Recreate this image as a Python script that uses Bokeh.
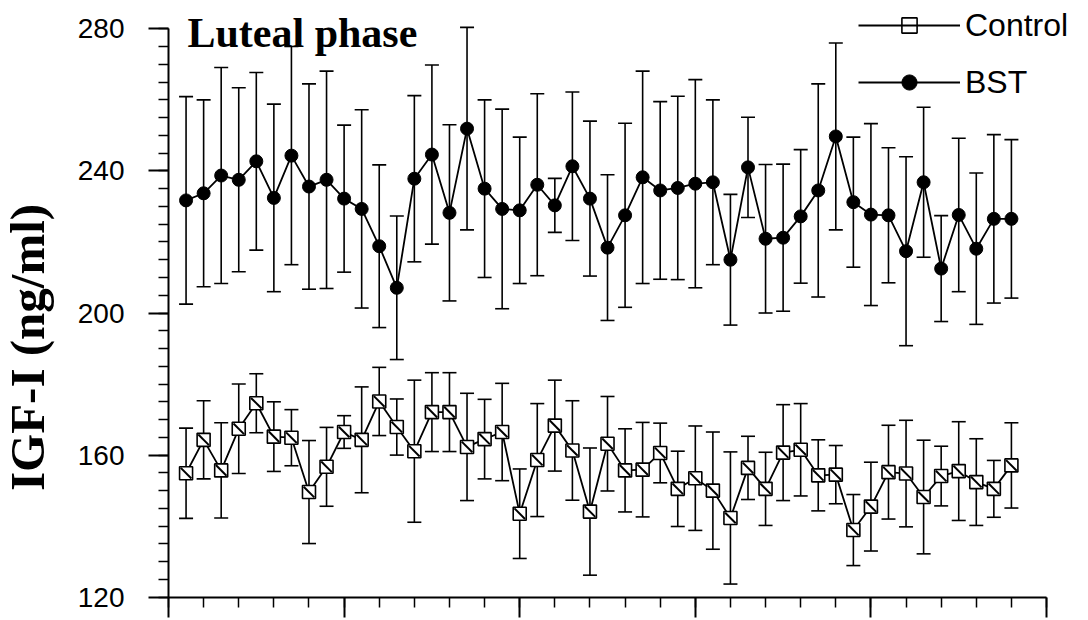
import math
from bokeh.plotting import figure
from bokeh.models import (ColumnDataSource, Range1d, FixedTicker, Whisker, TeeHead,
                          Legend, LegendItem, Label)
from bokeh.embed import file_html
from bokeh.resources import INLINE

# ---- data ----
day = list(range(1, 49))

bst_mean = [231.7, 233.7, 238.7, 237.5, 242.7, 232.4, 244.3, 235.6, 237.5, 232.2,
            229.3, 218.8, 207.1, 237.8, 244.6, 228.2, 251.9, 235.0, 229.3, 228.9,
            236.1, 230.3, 241.3, 232.2, 218.4, 227.5, 238.2, 234.5, 235.2, 236.4,
            236.8, 215.0, 241.0, 220.9, 221.2, 227.2, 234.5, 249.7, 231.2, 227.7,
            227.5, 217.4, 236.8, 212.5, 227.6, 218.1, 226.5, 226.5]
bst_err = [29.2, 26.3, 30.4, 25.9, 25.0, 26.4, 30.7, 28.9, 30.6, 20.7,
           27.9, 22.9, 20.2, 23.4, 25.2, 24.8, 28.5, 25.0, 28.1, 20.6,
           25.6, 7.6, 20.9, 21.8, 20.5, 25.9, 29.9, 25.0, 25.8, 29.3,
           23.2, 18.4, 14.1, 20.9, 20.7, 18.8, 30.0, 26.3, 18.3, 25.6,
           19.0, 26.6, 21.1, 14.9, 21.6, 21.3, 23.7, 22.3]

ctl_mean = [154.9, 164.3, 155.7, 167.4, 174.6, 165.2, 164.9, 149.6, 156.7, 166.5,
            164.3, 175.1, 167.9, 161.1, 172.1, 172.1, 162.3, 164.5, 166.5, 143.5,
            158.6, 168.3, 161.3, 144.1, 163.2, 155.7, 155.9, 160.6, 150.5, 153.5,
            150.0, 142.3, 156.4, 150.5, 160.7, 161.5, 154.3, 154.5, 138.9, 145.5,
            155.2, 154.8, 148.2, 154.1, 155.5, 152.4, 150.5, 157.1]
ctl_err = [12.7, 11.0, 13.4, 12.6, 8.3, 9.8, 7.9, 14.5, 11.1, 4.6,
           14.9, 9.6, 7.9, 20.0, 11.1, 11.1, 15.1, 11.2, 13.7, 12.6,
           15.9, 12.8, 14.0, 17.9, 13.3, 11.7, 13.3, 8.4, 10.6, 14.7,
           16.5, 18.6, 8.9, 10.3, 13.5, 13.0, 10.0, 8.2, 10.0, 12.5,
           13.2, 15.0, 16.0, 8.4, 13.9, 12.2, 8.0, 12.0]

y_major = [120, 160, 200, 240, 280]
y_minor = list(range(120, 281, 5))
x_major = [0, 10, 20, 30, 40, 50]
x_minor = list(range(0, 51, 2))

title_text = "Luteal phase"
y_label = "IGF-I (ng/ml)"
series_names = ["Control", "BST"]

# ---- sources ----
bst = ColumnDataSource(dict(x=day, y=bst_mean,
                            upper=[m + e for m, e in zip(bst_mean, bst_err)],
                            lower=[m - e for m, e in zip(bst_mean, bst_err)]))
ctl = ColumnDataSource(dict(x=day, y=ctl_mean,
                            upper=[m + e for m, e in zip(ctl_mean, ctl_err)],
                            lower=[m - e for m, e in zip(ctl_mean, ctl_err)]))

# The frame covers the whole canvas; both axes are pinned (x = 0, y = 120) and
# their lines stop at 280 / 50 (bounds), so texts outside the axes stay visible.
p = figure(width=1088, height=620, output_backend="svg", toolbar_location=None,
           x_range=Range1d(-9.567, 52.39), y_range=Range1d(113.44, 287.97),
           min_border_left=0, min_border_right=0, min_border_top=0,
           min_border_bottom=0)
p.outline_line_color = None
p.xgrid.visible = False
p.ygrid.visible = False
p.background_fill_color = "white"
p.border_fill_color = "white"

for ax in (p.xaxis[0], p.yaxis[0]):
    ax.axis_line_width = 2
    ax.axis_line_color = "black"
    ax.major_tick_line_width = 2
    ax.minor_tick_line_width = 1.5
    ax.major_tick_in = 0
    ax.minor_tick_in = 0

p.yaxis.fixed_location = 0
p.yaxis.bounds = (120, 280)
p.yaxis.ticker = FixedTicker(ticks=y_major, minor_ticks=y_minor)
p.yaxis.major_tick_out = 20
p.yaxis.minor_tick_out = 10
p.yaxis.major_label_text_font = "Liberation Sans"
p.yaxis.major_label_text_font_size = "28px"
p.yaxis.major_label_text_color = "black"
p.yaxis.major_label_standoff = 24

p.xaxis.fixed_location = 120
p.xaxis.bounds = (0, 50)
p.xaxis.ticker = FixedTicker(ticks=x_major, minor_ticks=x_minor)
p.xaxis.major_tick_out = 20
p.xaxis.minor_tick_out = 10
p.xaxis.major_label_text_font_size = "1px"
p.xaxis.major_label_text_color = None
p.xaxis.major_label_standoff = 0

# error bars
for src in (bst, ctl):
    w = Whisker(base="x", upper="upper", lower="lower", source=src,
                line_color="black", line_width=1.6,
                upper_head=TeeHead(size=14, line_width=1.6, line_color="black"),
                lower_head=TeeHead(size=14, line_width=1.6, line_color="black"))
    p.add_layout(w)

# BST series
bst_line = p.line("x", "y", source=bst, line_color="black", line_width=1.8)
bst_dot = p.scatter("x", "y", source=bst, marker="circle", size=13,
                    fill_color="black", line_color="black")

# Control series
ctl_line = p.line("x", "y", source=ctl, line_color="black", line_width=1.8)
ctl_sq = p.scatter("x", "y", source=ctl, marker="square", size=13,
                   fill_color="white", line_color="black", line_width=1.6)
ctl_diag = p.scatter("x", "y", source=ctl, marker="dash", size=15, angle=-math.pi / 4,
                     line_color="black", line_width=2)

legend = Legend(items=[LegendItem(label=series_names[0], renderers=[ctl_line, ctl_sq, ctl_diag]),
                       LegendItem(label=series_names[1], renderers=[bst_line, bst_dot])],
                location=(858, 519), orientation="vertical",
                glyph_width=102, glyph_height=38, label_height=38,
                label_standoff=5, spacing=19, padding=0, margin=0,
                label_text_font="Liberation Sans", label_text_font_size="32px",
                label_text_color="black", label_text_baseline="middle",
                border_line_color=None, background_fill_alpha=0)
p.add_layout(legend)

title = Label(x=1.08, y=278.7, text=title_text, text_font="Liberation Serif",
              text_font_style="bold", text_font_size="42px", text_color="black",
              text_baseline="alphabetic", text_align="left")
p.add_layout(title)

ylab = Label(x=-8.03, y=190.3, text=y_label, angle=math.pi / 2,
             text_font="Liberation Serif", text_font_style="bold",
             text_font_size="49px", text_color="black",
             text_baseline="alphabetic", text_align="center")
p.add_layout(ylab)

open("out.html", "w").write(file_html(p, INLINE))
